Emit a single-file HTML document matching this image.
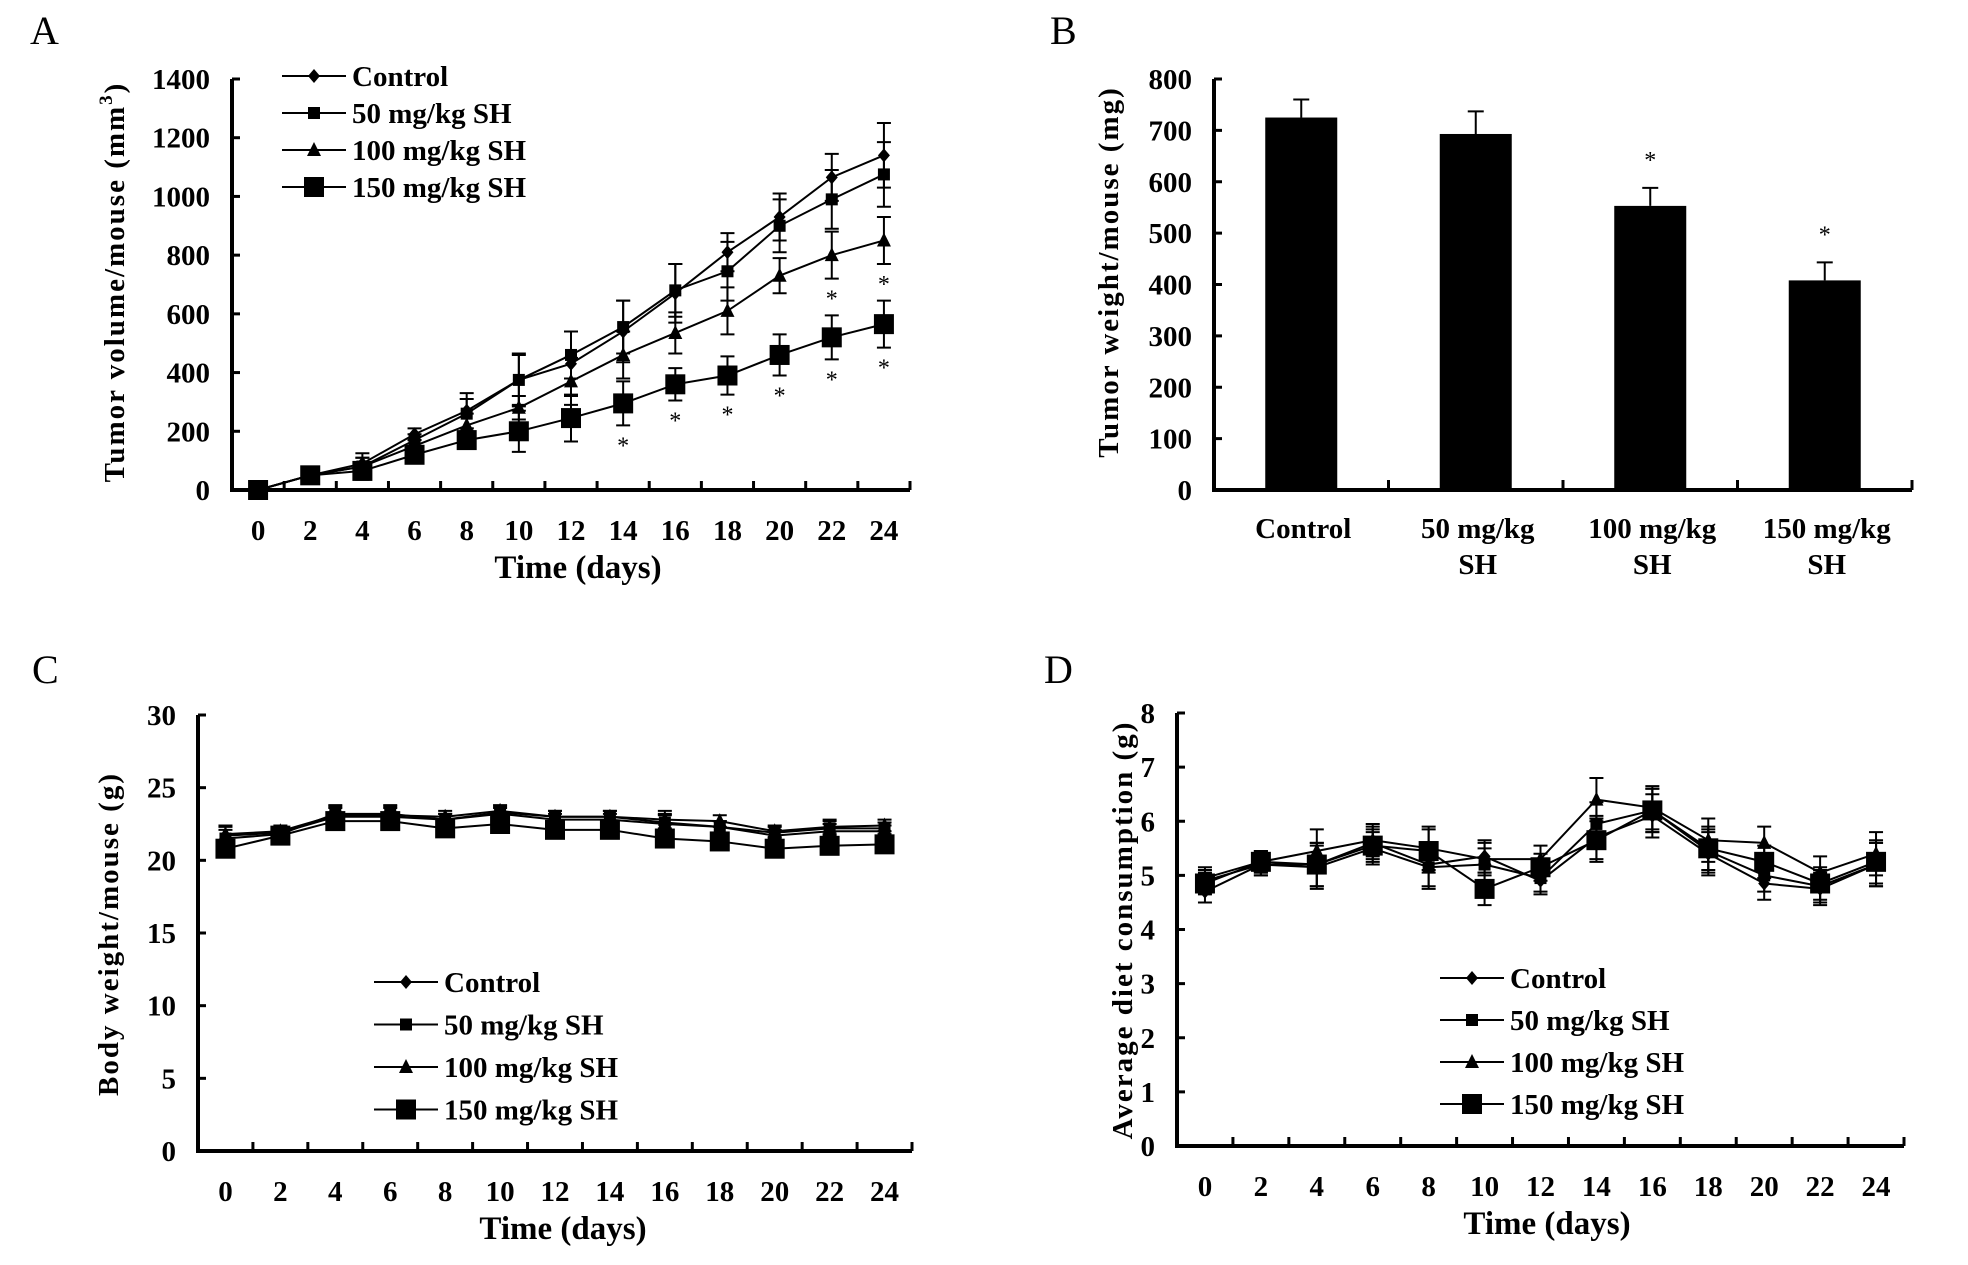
<!DOCTYPE html>
<html><head><meta charset="utf-8">
<style>
html,body{margin:0;padding:0;background:#fff;}
svg{display:block;font-family:"Liberation Serif",serif;}
.t{font-weight:bold;font-size:29px;}
.ti{font-weight:bold;font-size:33px;}
.yt{font-weight:bold;font-size:29px;letter-spacing:2px;}
.pl{font-size:40px;}
</style></head>
<body>
<svg id="fig" width="1968" height="1265" viewBox="0 0 1968 1265" xmlns="http://www.w3.org/2000/svg"></svg>
<script>
// ---- Data ----
const days = [0,2,4,6,8,10,12,14,16,18,20,22,24];
const seriesNames = ["Control","50 mg/kg SH","100 mg/kg SH","150 mg/kg SH"];
// Panel A: tumor volume
const aControl = [0,50,90,190,270,375,430,540,670,810,930,1065,1140];
const a50 = [0,50,80,170,260,375,460,555,680,745,900,990,1075];
const a100 = [0,50,80,150,220,280,370,460,535,610,730,800,850];
const a150 = [0,50,65,120,170,200,245,295,360,390,460,520,565];
const aErrControl = [5,10,35,20,60,90,110,105,100,65,80,80,110];
const aErr50 = [5,10,30,20,50,85,80,90,90,100,90,100,110];
const aErr100 = [5,10,30,20,40,40,80,80,70,80,60,80,80];
const aErr150 = [5,10,30,20,30,70,80,75,55,65,70,75,80];
const aStars100 = [22,24];
const aStars150 = [14,16,18,20,22,24];
const aTicks = [0,200,400,600,800,1000,1200,1400];
// Panel B: tumor weight
const bCats = [["Control"],["50 mg/kg","SH"],["100 mg/kg","SH"],["150 mg/kg","SH"]];
const bValues = [725,693,553,408];
const bErr = [35,44,35,35];
const bStars = [false,false,true,true];
const bTicks = [0,100,200,300,400,500,600,700,800];
// Panel C: body weight
const cControl = [21.7,21.9,23.0,23.0,22.8,23.2,22.8,22.8,22.5,22.3,21.7,22.0,22.0];
const c50 = [21.5,21.8,23.2,23.2,22.8,23.3,23.0,23.0,22.6,22.3,21.9,22.2,22.2];
const c100 = [21.8,22.0,23.1,23.1,23.0,23.4,23.0,23.0,22.8,22.7,22.0,22.3,22.4];
const c150 = [20.8,21.7,22.7,22.7,22.2,22.5,22.1,22.1,21.5,21.3,20.8,21.0,21.1];
const cErr = [0.6,0.4,0.6,0.6,0.4,0.4,0.4,0.4,0.6,0.4,0.4,0.5,0.4];
const cTicks = [0,5,10,15,20,25,30];
// Panel D: diet consumption
const dControl = [4.7,5.2,5.2,5.6,5.2,5.35,4.9,5.7,6.1,5.4,4.85,4.75,5.2];
const d50 = [4.9,5.2,5.15,5.5,5.15,5.2,4.95,5.95,6.2,5.45,5.0,4.8,5.2];
const d100 = [4.95,5.25,5.45,5.65,5.5,5.3,5.3,6.4,6.25,5.65,5.6,5.05,5.4];
const d150 = [4.85,5.25,5.2,5.55,5.45,4.75,5.15,5.65,6.2,5.5,5.25,4.85,5.25];
const dErr = [0.2,0.2,0.4,0.3,0.4,0.3,0.25,0.4,0.4,0.4,0.3,0.3,0.4];
const dTicks = [0,1,2,3,4,5,6,7,8];

const NS="http://www.w3.org/2000/svg";
const svg=document.getElementById('fig');
function mk(tag,attrs,parent,text){
  const e=document.createElementNS(NS,tag);
  for(const k in attrs) e.setAttribute(k,attrs[k]);
  if(text!==undefined) e.textContent=text;
  (parent||svg).appendChild(e);
  return e;
}
function marker(g,type,x,y){
  let m;
  if(type===0){m=mk('polygon',{points:`${x},${y-7} ${x+6},${y} ${x},${y+7} ${x-6},${y}`,fill:'#000'},g);}
  else if(type===1){m=mk('rect',{x:x-6,y:y-6,width:12,height:12,fill:'#000'},g);}
  else if(type===2){m=mk('polygon',{points:`${x},${y-8} ${x+7},${y+6} ${x-7},${y+6}`,fill:'#000'},g);}
  else {m=mk('rect',{x:x-10,y:y-10,width:20,height:20,fill:'#000'},g);}
  return m;
}
function lineChart(o){
  const g=mk('g',{});
  
  
  const lab=mk('text',{x:o.lx,y:o.ly,class:'pl'},g,o.letter);
  
  
  const n=days.length, cw=(o.x1-o.x0)/n;
  const X=i=>o.x0+cw*(i+0.5);
  const ymax=o.ticks[o.ticks.length-1];
  const Y=v=>o.y0-(v/ymax)*(o.y0-o.y1);
  const ax=mk('path',{d:`M${o.x0},${o.y1} V${o.y0} H${o.x1}`,stroke:'#000','stroke-width':4,fill:'none'},g);
  
  
  o.ticks.forEach(t=>{
    mk('line',{x1:o.x0,x2:o.x0+8,y1:Y(t),y2:Y(t),stroke:'#000','stroke-width':3},g);
    const tl=mk('text',{x:o.x0-22,y:Y(t)+10,'text-anchor':'end',class:'t'},g,String(t));
    
    
  });
  for(let i=1;i<=n;i++) mk('line',{x1:o.x0+cw*i,x2:o.x0+cw*i,y1:o.y0,y2:o.y0-9,stroke:'#000','stroke-width':3},g);
  days.forEach((d,i)=>{
    const tl=mk('text',{x:X(i),y:o.y0+50,'text-anchor':'middle',class:'t'},g,String(d));
    
    
  });
  const xt=mk('text',{x:o.xtx,y:o.y0+88,'text-anchor':'middle',class:'ti'},g,'Time (days)');
  
  
  const yt=mk('text',{x:0,y:0,'text-anchor':'middle',class:'yt',transform:`translate(${o.ytx},${o.yty}) rotate(-90)`},g);
  yt.innerHTML=o.ytitle;
  
  
  o.series.forEach((s,si)=>{
    const sg=mk('g',{},g);
    
    
    const err=o.errs[si];
    s.forEach((v,i)=>{
      const e=err[i];
      const eb=mk('path',{d:`M${X(i)},${Y(v-e)} V${Y(v+e)} M${X(i)-7},${Y(v+e)} h14 M${X(i)-7},${Y(v-e)} h14`,stroke:'#000','stroke-width':2,fill:'none'},sg);
      
      
    });
    const pl=mk('polyline',{points:s.map((v,i)=>X(i)+','+Y(v)).join(' '),fill:'none',stroke:'#000','stroke-width':2},sg);
    
    
    s.forEach((v,i)=>{
      const m=marker(sg,si,X(i),Y(v));
      
      
    });
    if(o.stars && o.stars[si]){
      o.stars[si].forEach(d=>{
        const i=days.indexOf(d);
        const st=mk('text',{x:X(i),y:Y(s[i]-err[i])+28,'text-anchor':'middle',style:'font-size:24px'},sg,'*');
        
        
      });
    }
  });
  const lg=mk('g',{},g);
  
  
  seriesNames.forEach((nm,si)=>{
    const y=o.legY+si*o.legDy;
    const eg=mk('g',{},lg);
    
    
    mk('line',{x1:o.legX,x2:o.legX+64,y1:y,y2:y,stroke:'#000','stroke-width':2},eg);
    marker(eg,si,o.legX+32,y);
    mk('text',{x:o.legX+70,y:y+10,class:'t'},eg,nm);
  });
}
lineChart({name:'panel-a-tumor-volume',letter:'A',lx:30,ly:44,x0:232,x1:910,y0:490,y1:79,ticks:aTicks,
  series:[aControl,a50,a100,a150],errs:[aErrControl,aErr50,aErr100,aErr150],stars:[null,null,aStars100,aStars150],
  ytitle:'Tumor volume/mouse (mm<tspan dy="-12" style="font-size:19px">3</tspan><tspan dy="12">)</tspan>',ytx:124,yty:282,xtx:578,
  legX:282,legY:76,legDy:37});
lineChart({name:'panel-c-body-weight',letter:'C',lx:32,ly:683,x0:198,x1:912,y0:1151,y1:715,ticks:cTicks,
  series:[cControl,c50,c100,c150],errs:[cErr,cErr,cErr,cErr],
  ytitle:'Body weight/mouse (g)',ytx:118,yty:934,xtx:563,legX:374,legY:982,legDy:42.5});
lineChart({name:'panel-d-diet-consumption',letter:'D',lx:1044,ly:683,x0:1177,x1:1904,y0:1146,y1:713,ticks:dTicks,
  series:[dControl,d50,d100,d150],errs:[dErr,dErr,dErr,dErr],
  ytitle:'Average diet consumption (g)',ytx:1132,yty:930,xtx:1547,legX:1440,legY:978,legDy:42});

(function(){
  const g=mk('g',{});
  
  
  const lab=mk('text',{x:1050,y:44,class:'pl'},g,'B');
  
  
  const x0=1214,x1=1912,y0=490,y1=79,n=bValues.length,cw=(x1-x0)/n;
  const ymax=bTicks[bTicks.length-1];
  const Y=v=>y0-(v/ymax)*(y0-y1);
  const X=i=>x0+cw*(i+0.5);
  bValues.forEach((v,i)=>{
    const e=bErr[i];
    const eb=mk('path',{d:`M${X(i)},${Y(v)} V${Y(v+e)} M${X(i)-8},${Y(v+e)} h16`,stroke:'#000','stroke-width':2,fill:'none'},g);
    
    
    const r=mk('rect',{x:X(i)-36,y:Y(v),width:72,height:y0-Y(v),fill:'#000'},g);
    
    
    if(bStars[i]){
      const st=mk('text',{x:X(i),y:Y(v+e)-20,'text-anchor':'middle',style:'font-size:24px'},g,'*');
      
      
    }
    bCats[i].forEach((ln,k)=>{
      const tl=mk('text',{x:X(i)+2,y:y0+48+k*36,'text-anchor':'middle',class:'t'},g,ln);
      
      
    });
  });
  const ax=mk('path',{d:`M${x0},${y1} V${y0} H${x1}`,stroke:'#000','stroke-width':4,fill:'none'},g);
  
  
  bTicks.forEach(t=>{
    mk('line',{x1:x0,x2:x0+8,y1:Y(t),y2:Y(t),stroke:'#000','stroke-width':3},g);
    const tl=mk('text',{x:x0-22,y:Y(t)+10,'text-anchor':'end',class:'t'},g,String(t));
    
    
  });
  for(let i=1;i<=n;i++) mk('line',{x1:x0+cw*i,x2:x0+cw*i,y1:y0,y2:y0-10,stroke:'#000','stroke-width':3},g);
  const yt=mk('text',{x:0,y:0,'text-anchor':'middle',class:'yt',transform:'translate(1118,272) rotate(-90)'},g,'Tumor weight/mouse (mg)');
  
  
})();
</script>
</body></html>
